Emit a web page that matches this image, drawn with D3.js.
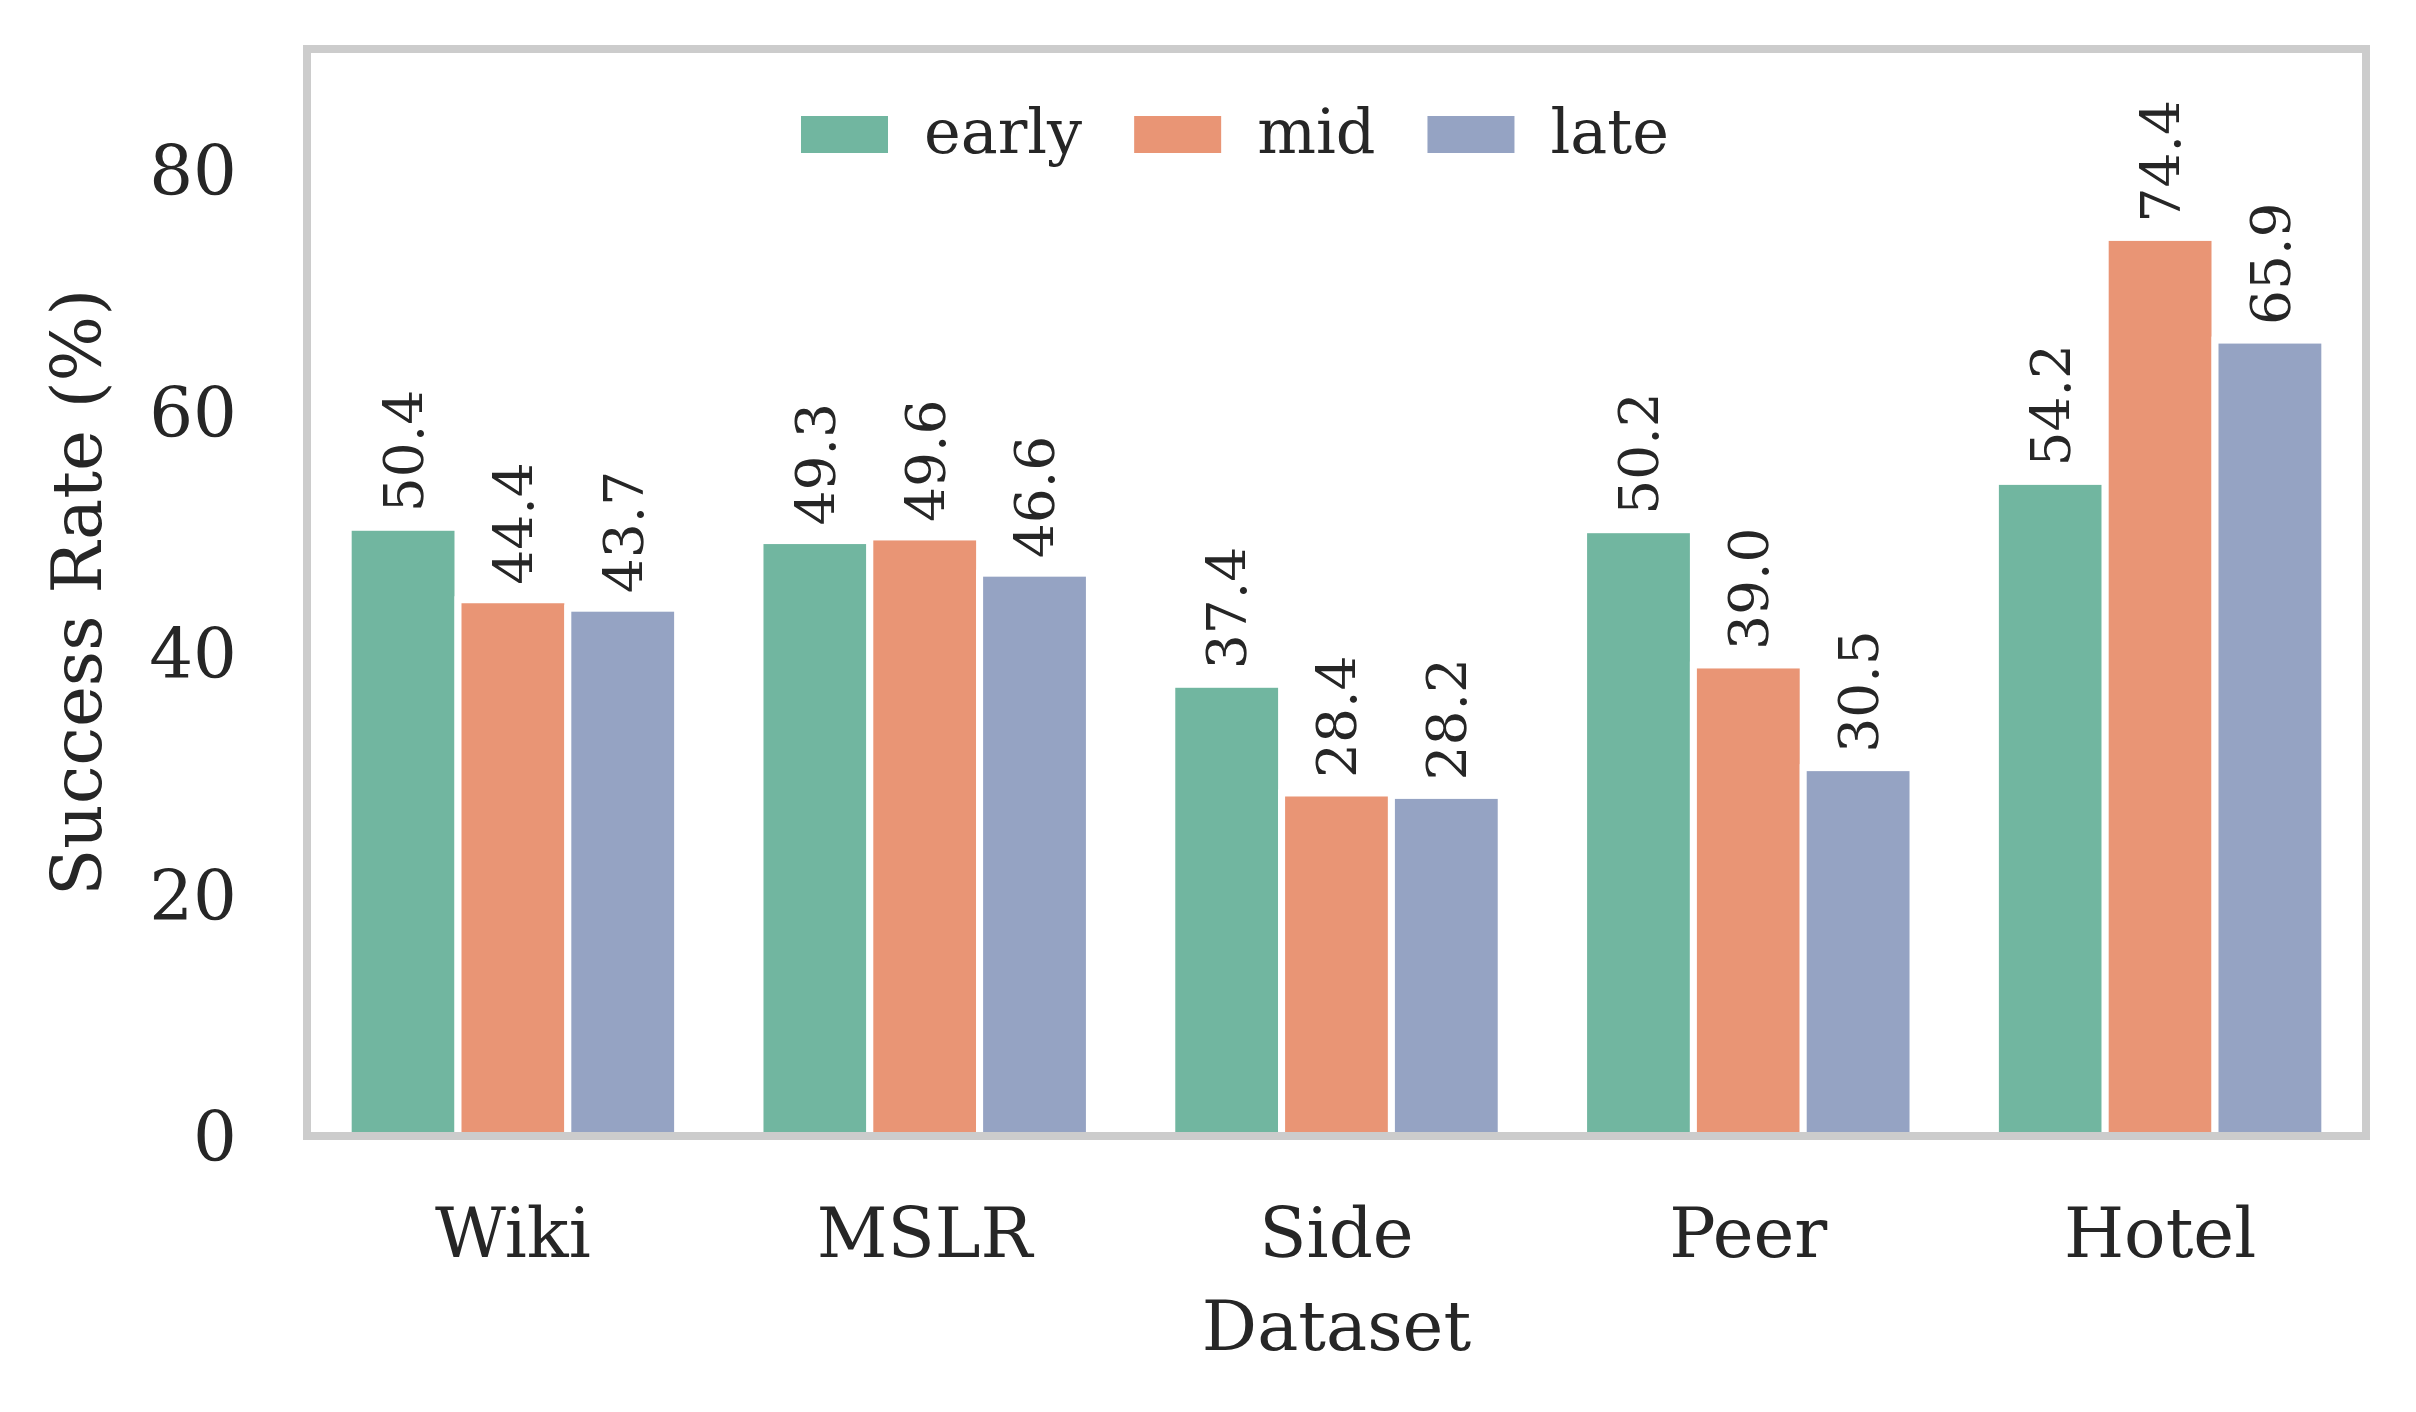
<!DOCTYPE html>
<html>
<head>
<meta charset="utf-8">
<script src="https://cdn.jsdelivr.net/npm/d3@7"></script>
<style>
  html, body { margin: 0; padding: 0; background: #ffffff; }
  svg { display: block; }
  text { font-family: "DejaVu Serif", serif; fill: #262626; }
</style>
</head>
<body>
<svg id="chart" width="2416" height="1412"></svg>
<script>
// --- Data ---
const categories = ["Wiki", "MSLR", "Side", "Peer", "Hotel"];
const seriesNames = ["early", "mid", "late"];
const early = [50.4, 49.3, 37.4, 50.2, 54.2];
const mid = [44.4, 49.6, 28.4, 39.0, 74.4];
const late = [43.7, 46.6, 28.2, 30.5, 65.9];
const yTicks = [0, 20, 40, 60, 80];
const seriesColors = ["#71b6a0", "#e99575", "#95a3c3"];

const seriesValues = [early, mid, late];

const svg = d3.select("#chart");
const margin = { top: 49, right: 50, bottom: 276, left: 307 };
const W = 2416, H = 1412;
const labelSize = "69px";

const x = d3.scaleBand()
    .domain(categories)
    .range([margin.left, W - margin.right])
    .paddingInner(0)
    .paddingOuter(0);

const groupWidth = x.bandwidth() * 0.8;
const xInner = d3.scaleBand()
    .domain(seriesNames)
    .range([0, groupWidth]);

const y = d3.scaleLinear()
    .domain([0, 90])
    .range([H - margin.bottom, margin.top]);

const color = d3.scaleOrdinal().domain(seriesNames).range(seriesColors);

// flat table for the bars
const rows = [];
seriesNames.forEach((s, si) => {
    categories.forEach((c, ci) => {
        rows.push({ cat: c, series: s, value: seriesValues[si][ci] });
    });
});

const barX = d => x(d.cat) + (x.bandwidth() - groupWidth) / 2 + xInner(d.series);

// --- Bars ---
svg.append("g")
    .selectAll("rect")
    .data(rows)
    .enter().append("rect")
    .attr("x", barX)
    .attr("y", d => y(d.value))
    .attr("width", xInner.bandwidth())
    .attr("height", d => y(0) - y(d.value))
    .attr("fill", d => color(d.series))
    .attr("stroke", "#ffffff")
    .attr("stroke-width", 7);

// --- Value labels (rotated) ---
svg.append("g")
    .selectAll("text")
    .data(rows)
    .enter().append("text")
    .attr("transform", d => `translate(${barX(d) + xInner.bandwidth() / 2},${y(d.value) - 15}) rotate(-90)`)
    .attr("dy", "0.36em")
    .attr("text-anchor", "start")
    .style("font-size", "55px")
    .text(d => d.value.toFixed(1));

// --- Axes frame (spines) ---
svg.append("rect")
    .attr("x", margin.left)
    .attr("y", margin.top)
    .attr("width", W - margin.right - margin.left)
    .attr("height", H - margin.bottom - margin.top)
    .attr("fill", "none")
    .attr("stroke", "#cccccc")
    .attr("stroke-width", 8);

// --- Y axis ticks ---
const yAxis = svg.append("g")
    .attr("transform", `translate(${margin.left},0)`)
    .call(d3.axisLeft(y).tickValues(yTicks).tickSize(0).tickPadding(70));
yAxis.select(".domain").remove();
yAxis.selectAll("text")
    .attr("dy", "0.36em")
    .style("font-family", "DejaVu Serif")
    .style("font-size", labelSize)
    .attr("fill", "#262626");

// --- X axis ticks ---
const xAxis = svg.append("g")
    .attr("transform", `translate(0,${H - margin.bottom})`)
    .call(d3.axisBottom(x).tickSize(0).tickPadding(72));
xAxis.select(".domain").remove();
xAxis.selectAll("text")
    .style("font-family", "DejaVu Serif")
    .style("font-size", labelSize)
    .attr("fill", "#262626");

// --- Axis titles ---
svg.append("text")
    .attr("x", (margin.left + W - margin.right) / 2)
    .attr("y", 1350)
    .attr("text-anchor", "middle")
    .style("font-size", labelSize)
    .text("Dataset");

svg.append("text")
    .attr("transform", `translate(101,${(margin.top + H - margin.bottom) / 2}) rotate(-90)`)
    .attr("text-anchor", "middle")
    .style("font-size", labelSize)
    .text("Success Rate (%)");

// --- Legend (no frame) ---
const legend = svg.append("g");
let lx = 801;
seriesNames.forEach(s => {
    legend.append("rect")
        .attr("x", lx)
        .attr("y", 116)
        .attr("width", 87)
        .attr("height", 37)
        .attr("fill", color(s));
    const t = legend.append("text")
        .attr("x", lx + 123)
        .attr("y", 153)
        .style("font-size", "62px")
        .text(s);
    lx = lx + 123 + t.node().getComputedTextLength() + 52;
});
</script>
</body>
</html>
